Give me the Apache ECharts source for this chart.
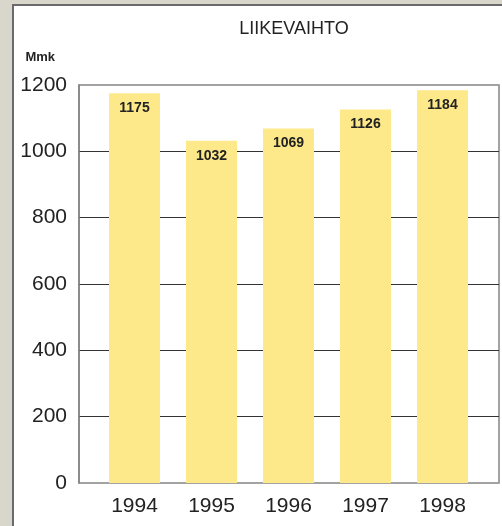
<!DOCTYPE html>
<html>
<head>
<meta charset="utf-8">
<script src="https://cdn.jsdelivr.net/npm/echarts@6/dist/echarts.min.js"></script>
<style>
html, body { margin: 0; padding: 0; background: #d9d6cc; }
#chart { width: 502px; height: 526px; }
</style>
</head>
<body>
<div id="chart"></div>
<script>
var years = ['1994', '1995', '1996', '1997', '1998'];
var liikevaihto = [1175, 1032, 1069, 1126, 1184];
var yTicks = { min: 0, max: 1200, interval: 200 };

var myChart = echarts.init(document.getElementById('chart'));

var option = {
    backgroundColor: '#d9d6cc',
    animation: false,
    title: {
        text: 'LIIKEVAIHTO',
        left: 289,
        top: 15,
        textAlign: 'center',
        textStyle: {
            fontFamily: 'Liberation Sans, Arial',
            fontSize: 18,
            fontWeight: 'normal',
            color: '#222'
        }
    },
    graphic: [{
        type: 'rect',
        z: -10,
        shape: { x: 13, y: 5, width: 600, height: 600 },
        style: { fill: '#ffffff', stroke: '#6a6a6a', lineWidth: 2 }
    }],
    grid: [
        // frame + gridlines
        { left: 79, top: 85, right: 3, bottom: 43, show: true, borderColor: '#858585', borderWidth: 1.5 },
        // bars
        { left: 96, top: 85, right: 21, bottom: 43 }
    ],
    xAxis: [
        { gridIndex: 0, type: 'category', data: years, show: false },
        {
            gridIndex: 1,
            type: 'category',
            data: years,
            axisLine: { show: false },
            axisTick: { show: false },
            axisLabel: {
                margin: 13,
                fontFamily: 'Liberation Sans, Arial',
                fontSize: 21,
                color: '#222'
            }
        }
    ],
    yAxis: [
        {
            gridIndex: 0,
            type: 'value',
            min: yTicks.min,
            max: yTicks.max,
            interval: yTicks.interval,
            name: 'Mmk',
            nameLocation: 'end',
            nameGap: 28,
            nameTextStyle: {
                align: 'right',
                verticalAlign: 'middle',
                padding: [0, 24, 0, 0],
                fontFamily: 'Liberation Sans, Arial',
                fontSize: 13,
                fontWeight: 'bold',
                color: '#222'
            },
            axisLine: { show: true, lineStyle: { color: '#858585', width: 1.5 } },
            axisTick: { show: false },
            axisLabel: {
                margin: 12,
                fontFamily: 'Liberation Sans, Arial',
                fontSize: 21,
                color: '#222',
                formatter: function (v) { return String(v); }
            },
            splitLine: {
                show: true,
                showMinLine: false,
                showMaxLine: false,
                lineStyle: { color: '#333', width: 1 }
            }
        },
        {
            gridIndex: 1,
            type: 'value',
            min: yTicks.min,
            max: yTicks.max,
            interval: yTicks.interval,
            show: false
        }
    ],
    series: [{
        name: 'Liikevaihto',
        type: 'bar',
        xAxisIndex: 1,
        yAxisIndex: 1,
        barWidth: 51,
        data: liikevaihto,
        itemStyle: { color: '#fde98a' },
        label: {
            show: true,
            position: 'insideTop',
            distance: 8,
            fontFamily: 'Liberation Sans, Arial',
            fontSize: 14,
            fontWeight: 'bold',
            color: '#222'
        }
    }]
};
myChart.setOption(option);
</script>
</body>
</html>
